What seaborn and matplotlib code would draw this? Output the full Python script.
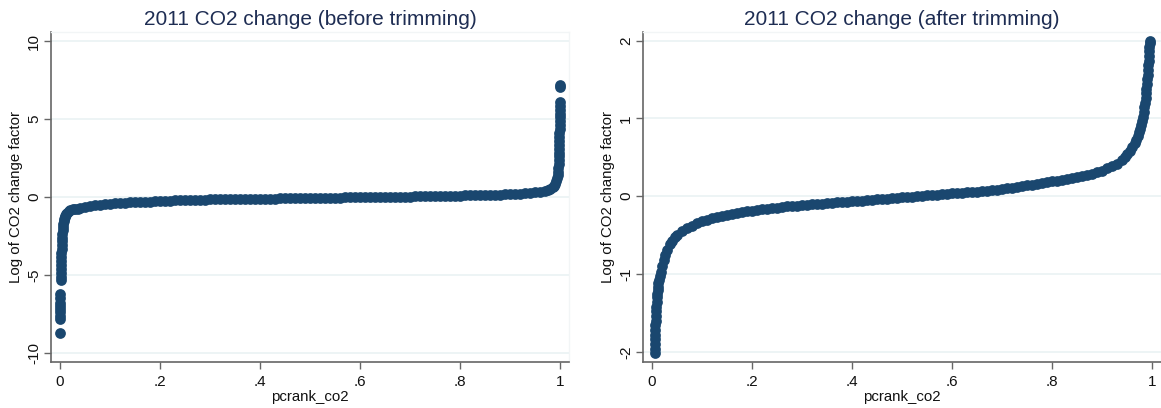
import numpy as np
import pandas as pd
import seaborn as sns
import matplotlib.pyplot as plt

# %% data
before_x = [
    0.0, 0.0, 0.0, 0.0, 0.0, 0.0, 0.0, 0.0, 0.0,
    0.001, 0.0012, 0.0015, 0.0018, 0.002, 0.0023, 0.0025, 0.0028, 0.003, 0.0033,
    0.0036, 0.004, 0.0045, 0.005, 0.0055, 0.006, 0.007, 0.008, 0.009, 0.010,
    0.012, 0.014, 0.017, 0.020, 0.025, 0.030, 0.035, 0.040, 0.050, 0.060,
    0.070, 0.080, 0.090,
    0.10, 0.11, 0.12, 0.13, 0.14, 0.15, 0.16, 0.17, 0.18, 0.19,
    0.20, 0.21, 0.22, 0.23, 0.24, 0.25, 0.26, 0.27, 0.28, 0.29,
    0.30, 0.31, 0.32, 0.33, 0.34, 0.35, 0.36, 0.37, 0.38, 0.39,
    0.40, 0.41, 0.42, 0.43, 0.44, 0.45, 0.46, 0.47, 0.48, 0.49,
    0.50, 0.51, 0.52, 0.53, 0.54, 0.55, 0.56, 0.57, 0.58, 0.59,
    0.60, 0.61, 0.62, 0.63, 0.64, 0.65, 0.66, 0.67, 0.68, 0.69,
    0.70, 0.71, 0.72, 0.73, 0.74, 0.75, 0.76, 0.77, 0.78, 0.79,
    0.80, 0.81, 0.82, 0.83, 0.84, 0.85, 0.86, 0.87, 0.88, 0.89,
    0.90, 0.91, 0.92, 0.93, 0.94, 0.95, 0.96, 0.97, 0.975, 0.98,
    0.985, 0.988, 0.990, 0.992, 0.994, 0.995, 0.996, 0.9965,
    0.997, 0.9972, 0.9975, 0.9977, 0.998, 0.9982, 0.9984, 0.9986, 0.9988,
    0.999, 0.9991, 0.9992, 0.9993, 0.9994, 0.9995, 0.9995, 0.9995,
    1.0, 1.0,
]
before_y = [
    -8.72, -7.8, -7.6, -7.4, -7.2, -7.0, -6.8, -6.45, -6.2,
    -5.35, -5.1, -4.85, -4.6, -4.35, -4.1, -3.85, -3.6, -3.35, -3.1,
    -2.85, -2.6, -2.35, -2.1, -1.9, -1.72, -1.55, -1.42, -1.3, -1.2,
    -1.08, -1.0, -0.92, -0.86, -0.8, -0.76, -0.74, -0.71, -0.64, -0.58,
    -0.54, -0.5, -0.46,
    -0.43, -0.40, -0.38, -0.36, -0.34, -0.33, -0.31, -0.30, -0.29, -0.28,
    -0.27, -0.25, -0.24, -0.22, -0.21, -0.20, -0.19, -0.18, -0.18, -0.17,
    -0.16, -0.16, -0.15, -0.15, -0.14, -0.14, -0.13, -0.13, -0.12, -0.12,
    -0.11, -0.11, -0.10, -0.10, -0.09, -0.09, -0.08, -0.08, -0.07, -0.07,
    -0.06, -0.06, -0.05, -0.05, -0.05, -0.04, -0.04, -0.03, -0.03, -0.02,
    -0.02, -0.01, -0.01, 0.00, 0.00, 0.01, 0.01, 0.02, 0.02, 0.03,
    0.03, 0.04, 0.04, 0.05, 0.05, 0.06, 0.06, 0.07, 0.08, 0.08,
    0.09, 0.10, 0.10, 0.11, 0.12, 0.13, 0.14, 0.15, 0.16, 0.17,
    0.18, 0.20, 0.21, 0.23, 0.26, 0.29, 0.34, 0.41, 0.46, 0.53,
    0.62, 0.72, 0.85, 1.0, 1.2, 1.4, 1.6, 1.85,
    2.1, 2.35, 2.6, 2.85, 3.1, 3.35, 3.6, 3.85, 4.1,
    4.35, 4.6, 4.85, 5.1, 5.35, 5.6, 5.85, 6.1,
    7.05, 7.2,
]

after_x = [
    0.005, 0.0053, 0.0056, 0.0059, 0.0062, 0.0065, 0.0068, 0.0071, 0.0075, 0.0080,
    0.0085, 0.0090, 0.0096, 0.0103, 0.0110, 0.0118, 0.0126, 0.0135, 0.0150, 0.0170,
    0.020, 0.023, 0.026, 0.030, 0.035, 0.040, 0.045, 0.050, 0.060, 0.070,
    0.080, 0.090, 0.100, 0.110,
    0.12, 0.13, 0.14, 0.15, 0.16, 0.17, 0.18, 0.19,
    0.20, 0.21, 0.22, 0.23, 0.24, 0.25, 0.26, 0.27, 0.28, 0.29,
    0.30, 0.31, 0.32, 0.33, 0.34, 0.35, 0.36, 0.37, 0.38, 0.39,
    0.40, 0.41, 0.42, 0.43, 0.44, 0.45, 0.46, 0.47, 0.48, 0.49,
    0.50, 0.51, 0.52, 0.53, 0.54, 0.55, 0.56, 0.57, 0.58, 0.59,
    0.60, 0.61, 0.62, 0.63, 0.64, 0.65, 0.66, 0.67, 0.68, 0.69,
    0.70, 0.71, 0.72, 0.73, 0.74, 0.75, 0.76, 0.77, 0.78, 0.79,
    0.80, 0.81, 0.82, 0.83, 0.84, 0.85, 0.86, 0.87, 0.88, 0.89,
    0.90, 0.91, 0.92, 0.93, 0.94, 0.945, 0.95, 0.955, 0.96, 0.965,
    0.968, 0.971, 0.974, 0.976, 0.978, 0.980, 0.982, 0.9833, 0.9845, 0.9857,
    0.987, 0.988, 0.9888, 0.9896, 0.9904, 0.9912, 0.992, 0.9926, 0.9932, 0.9938,
    0.9942, 0.9946, 0.9952, 0.996,
]
after_y = [
    -2.02, -1.96, -1.9, -1.84, -1.78, -1.72, -1.66, -1.6, -1.54, -1.48,
    -1.42, -1.36, -1.3, -1.25, -1.2, -1.16, -1.12, -1.08, -1.03, -0.97,
    -0.9, -0.82, -0.76, -0.69, -0.62, -0.57, -0.53, -0.5, -0.45, -0.41,
    -0.38, -0.35, -0.32, -0.30,
    -0.285, -0.27, -0.255, -0.24, -0.23, -0.22, -0.205, -0.195,
    -0.185, -0.18, -0.17, -0.16, -0.155, -0.145, -0.14, -0.13, -0.125, -0.12,
    -0.115, -0.11, -0.105, -0.10, -0.095, -0.09, -0.085, -0.08, -0.075, -0.07,
    -0.065, -0.06, -0.055, -0.05, -0.045, -0.04, -0.035, -0.03, -0.025, -0.02,
    -0.015, -0.01, -0.005, 0.0, 0.005, 0.01, 0.015, 0.02, 0.025, 0.03,
    0.035, 0.04, 0.045, 0.05, 0.055, 0.06, 0.065, 0.07, 0.08, 0.085,
    0.09, 0.10, 0.11, 0.12, 0.13, 0.14, 0.15, 0.16, 0.17, 0.18,
    0.19, 0.20, 0.21, 0.22, 0.23, 0.245, 0.26, 0.275, 0.29, 0.31,
    0.33, 0.36, 0.39, 0.42, 0.47, 0.50, 0.54, 0.58, 0.63, 0.68,
    0.72, 0.77, 0.82, 0.87, 0.92, 0.97, 1.02, 1.08, 1.14, 1.2,
    1.26, 1.32, 1.38, 1.44, 1.5, 1.56, 1.62, 1.68, 1.74, 1.8,
    1.86, 1.92, 1.97, 2.0,
]

x_ticks = [0, 0.2, 0.4, 0.6, 0.8, 1]
x_ticklabels = ["0", ".2", ".4", ".6", ".8", "1"]
before_yticks = [-10, -5, 0, 5, 10]
after_yticks = [-2, -1, 0, 1, 2]

before = pd.DataFrame({"pcrank_co2": before_x, "logchange": before_y})
after = pd.DataFrame({"pcrank_co2": after_x, "logchange": after_y})

# %% style
sns.set_theme(style="white")
plt.rcParams["font.family"] = ["Liberation Sans", "DejaVu Sans"]

navy = "#1a476f"
title_col = "#1e2d53"
grid_col = "#eaf2f3"
spine_col = "#666666"

fig = plt.figure(figsize=(11.61, 4.08), dpi=100)
ax1 = fig.add_axes([51 / 1161, 46 / 408, 518 / 1161, 330 / 408])
ax2 = fig.add_axes([643 / 1161, 46 / 408, 518 / 1161, 330 / 408])

panels = [
    (ax1, before, "2011 CO2 change (before trimming)", before_yticks, (-10.58, 10.58)),
    (ax2, after, "2011 CO2 change (after trimming)", after_yticks, (-2.13, 2.11)),
]

for ax, df, title, yticks, ylim in panels:
    sns.scatterplot(data=df, x="pcrank_co2", y="logchange", ax=ax,
                    color=navy, s=60, linewidth=0, alpha=1, zorder=3)
    ax.set_xlim(-0.018, 1.018)
    ax.set_ylim(*ylim)
    ax.set_xticks(x_ticks)
    ax.set_xticklabels(x_ticklabels)
    ax.set_yticks(yticks)
    ax.set_yticklabels([str(t) for t in yticks], rotation=90, va="center")
    ax.yaxis.grid(True, color=grid_col, linewidth=1.2, zorder=0)
    ax.set_axisbelow(True)
    ax.tick_params(axis="both", direction="out", length=5, width=1,
                   color=spine_col, labelsize=11, labelcolor="#111111")
    ax.tick_params(axis="x", bottom=True, pad=4)
    ax.tick_params(axis="y", left=True, pad=2)
    for side in ["left", "bottom"]:
        ax.spines[side].set_color(spine_col)
        ax.spines[side].set_linewidth(1.2)
    for side in ["top", "right"]:
        ax.spines[side].set_color("#f2f5f6")
        ax.spines[side].set_linewidth(1)
    ax.set_xlabel("pcrank_co2", fontsize=10.8, color="#111111", labelpad=1)
    ax.set_ylabel("Log of CO2 change factor", fontsize=10.8, color="#111111", labelpad=3)
    ax.set_title(title, fontsize=15, color=title_col, pad=5)

fig.savefig("out.png", dpi=100, facecolor="white")
